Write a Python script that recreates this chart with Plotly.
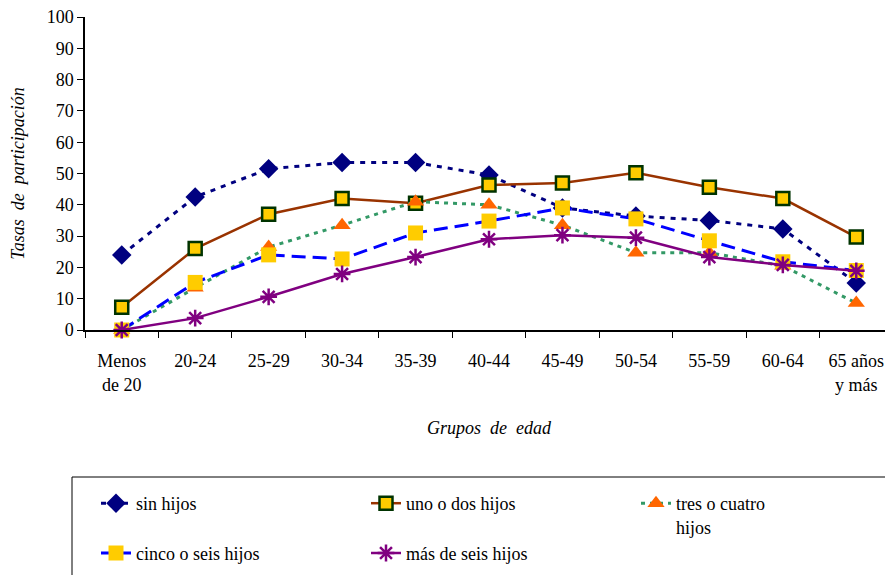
import plotly.graph_objects as go

# grupos de edad
grupos = ["Menos<br>de 20", "20-24", "25-29", "30-34", "35-39", "40-44",
          "45-49", "50-54", "55-59", "60-64", "65 años<br>y más"]

sin_hijos = [24, 42.5, 51.5, 53.5, 53.5, 49.5, 39, 36.4, 35, 32.3, 15]
uno_dos = [7.3, 26, 37, 42, 40.5, 46.3, 47, 50.2, 45.6, 42, 29.7]
tres_cuatro = [0, 13.5, 26.5, 33.5, 41, 40, 33.5, 24.7, 24.7, 20.5, 8.6]
cinco_seis = [0, 15.2, 24, 22.7, 31, 34.8, 39, 35.5, 28.5, 21.8, 19]
mas_seis = [0, 3.8, 10.6, 17.9, 23.3, 29, 30.3, 29.5, 23.3, 20.8, 18.9]

FONT = "Liberation Serif"
# the page body adds an 8px margin, so the figure is 8px smaller and offset
OFF = 8
W, H = 893 - OFF, 575 - OFF
L, R, T, B = 85 - OFF, 0, 17 - OFF, 575 - 330
pw = W - L - R
ph = H - T - B


def px_x(p):
    return (p - OFF - L) / pw


def px_y(p):
    return (H - B - (p - OFF)) / ph


fig = go.Figure()

fig.add_trace(go.Scatter(
    x=grupos, y=sin_hijos, name="sin hijos", mode="lines+markers",
    line=dict(color="#000080", width=3, dash="5px,6px"),
    marker=dict(symbol="diamond", size=15, color="#000080"),
    cliponaxis=False))
fig.add_trace(go.Scatter(
    x=grupos, y=uno_dos, name="uno o dos hijos", mode="lines+markers",
    line=dict(color="#993300", width=2.5),
    marker=dict(symbol="square", size=13, color="#FFCC00",
                line=dict(color="#003300", width=2.5)),
    cliponaxis=False))
fig.add_trace(go.Scatter(
    x=grupos, y=tres_cuatro, name="tres o cuatro<br>hijos", mode="lines+markers",
    line=dict(color="#339966", width=3, dash="4px,5px"),
    marker=dict(symbol="triangle-up", size=15, color="#FF6600"),
    cliponaxis=False))
fig.add_trace(go.Scatter(
    x=grupos, y=cinco_seis, name="cinco o seis hijos", mode="lines+markers",
    line=dict(color="#0000FF", width=3, dash="14px,7px"),
    marker=dict(symbol="square", size=15, color="#FFCC00"),
    cliponaxis=False))
fig.add_trace(go.Scatter(
    x=grupos, y=mas_seis, name="más de seis hijos", mode="lines+markers",
    line=dict(color="#800080", width=2.5),
    marker=dict(symbol="asterisk-open", size=14, color="#800080",
                line=dict(color="#800080", width=2.5)),
    cliponaxis=False))

fig.update_layout(
    width=W, height=H,
    margin=dict(l=L, r=R, t=T, b=B, autoexpand=False),
    plot_bgcolor="white", paper_bgcolor="white",
    font=dict(family=FONT, size=18, color="black"),
    showlegend=True,
    legend=dict(
        orientation="h", x=px_x(96), y=px_y(485), xanchor="left", yanchor="top",
        entrywidth=225, valign="top", font=dict(family=FONT, size=18, color="black"),
        bgcolor="rgba(0,0,0,0)", borderwidth=0, traceorder="normal"),
    shapes=[dict(type="rect", xref="paper", yref="paper",
                 x0=px_x(72), x1=px_x(900), y0=px_y(580), y1=px_y(477),
                 line=dict(color="black", width=1))],
)

fig.update_xaxes(
    type="category", range=[-0.5, 10.5],
    showline=True, linecolor="black", linewidth=1.5, showgrid=False,
    ticks="outside", tickson="boundaries", ticklen=6, tickcolor="black",
    ticklabelstandoff=14,
    tickfont=dict(family=FONT, size=18, color="black"),
    title=dict(text="<i>Grupos\u00a0\u00a0de\u00a0\u00a0edad</i>",
               font=dict(family=FONT, size=18, color="black"),
               standoff=28),
)
fig.update_yaxes(
    range=[0, 100], dtick=10, ticklabeloverflow="allow",
    showline=True, linecolor="black", linewidth=1.5, showgrid=False,
    zeroline=False, ticks="outside", ticklen=6, tickcolor="black",
    tickfont=dict(family=FONT, size=18, color="black"),
    title=dict(text="<i>Tasas\u00a0\u00a0de\u00a0\u00a0participación</i>",
               font=dict(family=FONT, size=18, color="black"),
               standoff=20),
)

fig.write_html("out.html")
